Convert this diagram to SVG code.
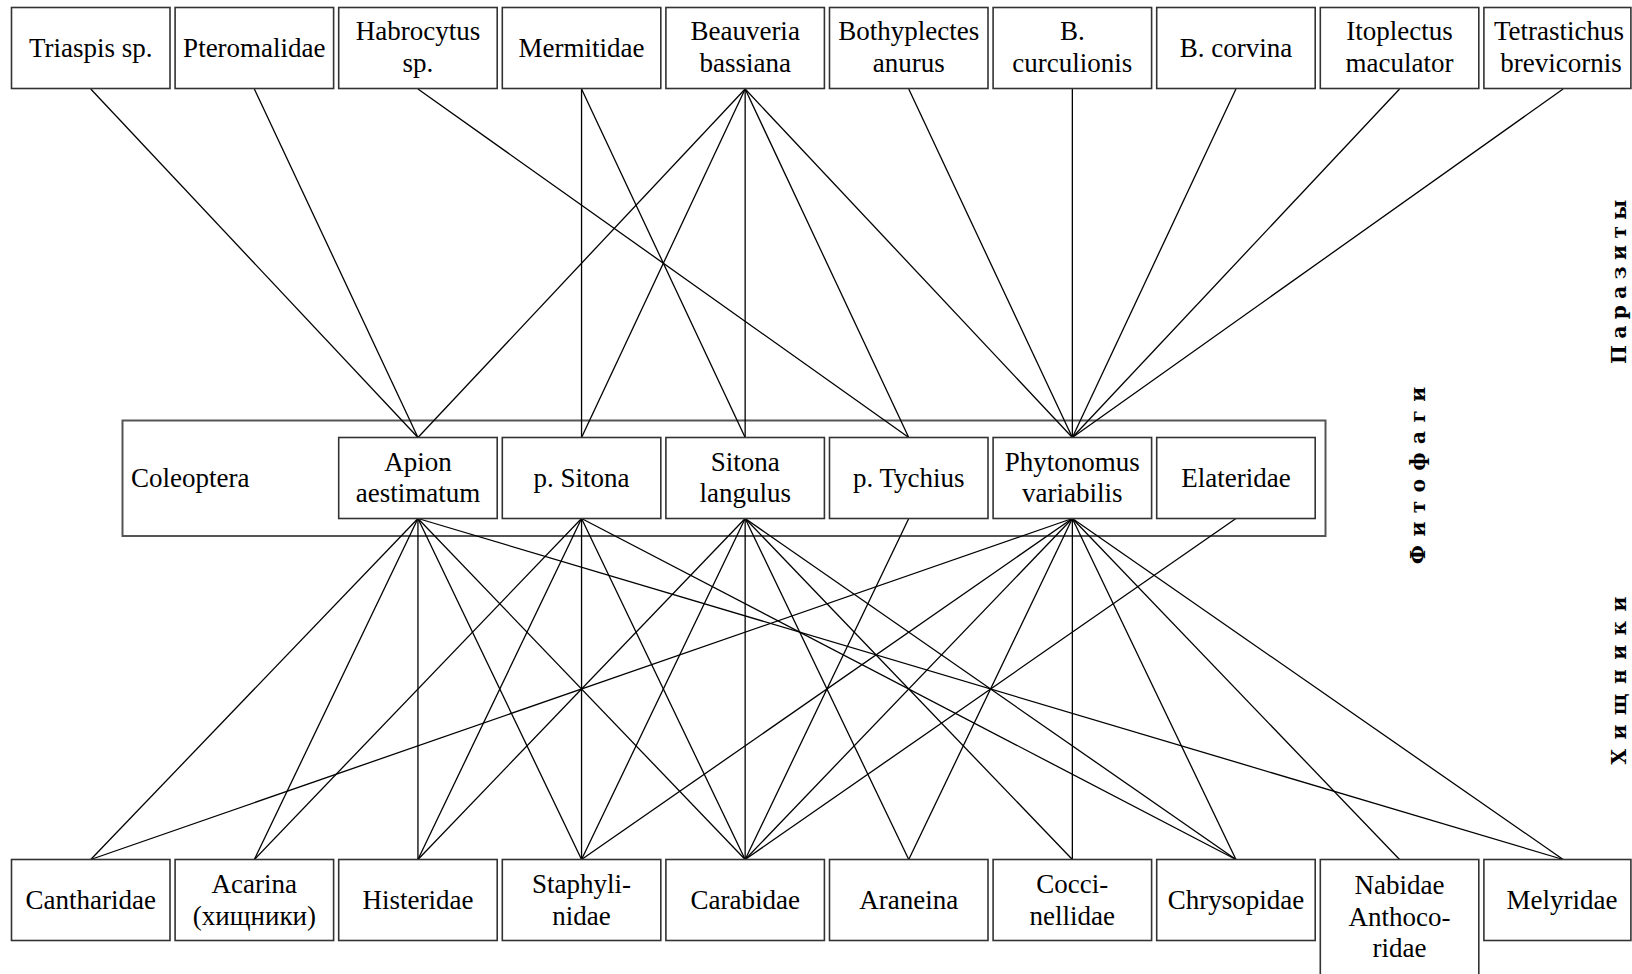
<svg xmlns="http://www.w3.org/2000/svg" width="1632" height="974" viewBox="0 0 1632 974">
<style>
.box{fill:#fff;stroke:#333;stroke-width:1.6}
.outer{fill:#fff;stroke:#555;stroke-width:2}
.lbl{font-family:"Liberation Serif","Times New Roman",serif;font-size:27px;fill:#000;text-anchor:middle}
.lbls{font-family:"Liberation Serif","Times New Roman",serif;font-size:27px;fill:#000;text-anchor:start}
.side{font-family:"DejaVu Serif",serif;font-weight:bold;font-size:20px;fill:#000;text-anchor:start}
.edges line{stroke:#000;stroke-width:1.3}
</style>
<rect width="1632" height="974" fill="#fff"/>
<g id="coleoptera">
<rect class="outer" x="122.5" y="420.5" width="1203" height="115.5"/>
<text class="lbls" x="131" y="486.5">Coleoptera</text>
</g>
<g id="connectors" class="edges">
<line x1="90.75" y1="89" x2="417.95" y2="437.5"/>
<line x1="254.35" y1="89" x2="417.95" y2="437.5"/>
<line x1="417.95" y1="89" x2="908.75" y2="437.5"/>
<line x1="581.55" y1="89" x2="581.55" y2="437.5"/>
<line x1="581.55" y1="89" x2="745.15" y2="437.5"/>
<line x1="745.15" y1="89" x2="417.95" y2="437.5"/>
<line x1="745.15" y1="89" x2="581.55" y2="437.5"/>
<line x1="745.15" y1="89" x2="745.15" y2="437.5"/>
<line x1="745.15" y1="89" x2="908.75" y2="437.5"/>
<line x1="745.15" y1="89" x2="1072.35" y2="437.5"/>
<line x1="908.75" y1="89" x2="1072.35" y2="437.5"/>
<line x1="1072.35" y1="89" x2="1072.35" y2="437.5"/>
<line x1="1235.95" y1="89" x2="1072.35" y2="437.5"/>
<line x1="1399.55" y1="89" x2="1072.35" y2="437.5"/>
<line x1="1563.15" y1="89" x2="1072.35" y2="437.5"/>
<line x1="417.95" y1="518.5" x2="90.75" y2="859.5"/>
<line x1="417.95" y1="518.5" x2="254.35" y2="859.5"/>
<line x1="417.95" y1="518.5" x2="417.95" y2="859.5"/>
<line x1="417.95" y1="518.5" x2="581.55" y2="859.5"/>
<line x1="417.95" y1="518.5" x2="745.15" y2="859.5"/>
<line x1="417.95" y1="518.5" x2="1563.15" y2="859.5"/>
<line x1="581.55" y1="518.5" x2="254.35" y2="859.5"/>
<line x1="581.55" y1="518.5" x2="417.95" y2="859.5"/>
<line x1="581.55" y1="518.5" x2="581.55" y2="859.5"/>
<line x1="581.55" y1="518.5" x2="745.15" y2="859.5"/>
<line x1="581.55" y1="518.5" x2="1235.95" y2="859.5"/>
<line x1="745.15" y1="518.5" x2="417.95" y2="859.5"/>
<line x1="745.15" y1="518.5" x2="581.55" y2="859.5"/>
<line x1="745.15" y1="518.5" x2="745.15" y2="859.5"/>
<line x1="745.15" y1="518.5" x2="908.75" y2="859.5"/>
<line x1="745.15" y1="518.5" x2="1072.35" y2="859.5"/>
<line x1="745.15" y1="518.5" x2="1235.95" y2="859.5"/>
<line x1="908.75" y1="518.5" x2="745.15" y2="859.5"/>
<line x1="1072.35" y1="518.5" x2="90.75" y2="859.5"/>
<line x1="1072.35" y1="518.5" x2="581.55" y2="859.5"/>
<line x1="1072.35" y1="518.5" x2="745.15" y2="859.5"/>
<line x1="1072.35" y1="518.5" x2="908.75" y2="859.5"/>
<line x1="1072.35" y1="518.5" x2="1072.35" y2="859.5"/>
<line x1="1072.35" y1="518.5" x2="1235.95" y2="859.5"/>
<line x1="1072.35" y1="518.5" x2="1399.55" y2="859.5"/>
<line x1="1072.35" y1="518.5" x2="1563.15" y2="859.5"/>
<line x1="1235.95" y1="518.5" x2="745.15" y2="859.5"/>
</g>
<g id="triaspis"><rect class="box" x="11.5" y="7.5" width="158.5" height="81"/><text class="lbl" x="90.75" y="56.5">Triaspis sp.</text></g>
<g id="pteromalidae"><rect class="box" x="175.1" y="7.5" width="158.5" height="81"/><text class="lbl" x="254.35" y="56.5">Pteromalidae</text></g>
<g id="habrocytus"><rect class="box" x="338.7" y="7.5" width="158.5" height="81"/><text class="lbl" x="417.95" y="40">Habrocytus</text><text class="lbl" x="417.95" y="71.7">sp.</text></g>
<g id="mermitidae"><rect class="box" x="502.3" y="7.5" width="158.5" height="81"/><text class="lbl" x="581.55" y="56.5">Mermitidae</text></g>
<g id="beauveria"><rect class="box" x="665.9" y="7.5" width="158.5" height="81"/><text class="lbl" x="745.15" y="40">Beauveria</text><text class="lbl" x="745.15" y="71.7">bassiana</text></g>
<g id="bothyplectes"><rect class="box" x="829.5" y="7.5" width="158.5" height="81"/><text class="lbl" x="908.75" y="40">Bothyplectes</text><text class="lbl" x="908.75" y="71.7">anurus</text></g>
<g id="b-curculionis"><rect class="box" x="993.1" y="7.5" width="158.5" height="81"/><text class="lbl" x="1072.35" y="40">B.</text><text class="lbl" x="1072.35" y="71.7">curculionis</text></g>
<g id="b-corvina"><rect class="box" x="1156.7" y="7.5" width="158.5" height="81"/><text class="lbl" x="1235.95" y="56.5">B. corvina</text></g>
<g id="itoplectus"><rect class="box" x="1320.3" y="7.5" width="158.5" height="81"/><text class="lbl" x="1399.55" y="40">Itoplectus</text><text class="lbl" x="1399.55" y="71.7">maculator</text></g>
<g id="tetrastichus"><rect class="box" x="1483.9" y="7.5" width="147" height="81"/><text class="lbl" x="1559" y="40">Tetrastichus</text><text class="lbl" x="1561" y="71.7">brevicornis</text></g>
<g id="apion"><rect class="box" x="338.7" y="437.5" width="158.5" height="81"/><text class="lbl" x="417.95" y="470.5">Apion</text><text class="lbl" x="417.95" y="502">aestimatum</text></g>
<g id="p-sitona"><rect class="box" x="502.3" y="437.5" width="158.5" height="81"/><text class="lbl" x="581.55" y="486.5">p. Sitona</text></g>
<g id="sitona-langulus"><rect class="box" x="665.9" y="437.5" width="158.5" height="81"/><text class="lbl" x="745.15" y="470.5">Sitona</text><text class="lbl" x="745.15" y="502">langulus</text></g>
<g id="p-tychius"><rect class="box" x="829.5" y="437.5" width="158.5" height="81"/><text class="lbl" x="908.75" y="486.5">p. Tychius</text></g>
<g id="phytonomus"><rect class="box" x="993.1" y="437.5" width="158.5" height="81"/><text class="lbl" x="1072.35" y="470.5">Phytonomus</text><text class="lbl" x="1072.35" y="502">variabilis</text></g>
<g id="elateridae"><rect class="box" x="1156.7" y="437.5" width="158.5" height="81"/><text class="lbl" x="1235.95" y="486.5">Elateridae</text></g>
<g id="cantharidae"><rect class="box" x="11.5" y="859.5" width="158.5" height="81"/><text class="lbl" x="90.75" y="908.5">Cantharidae</text></g>
<g id="acarina"><rect class="box" x="175.1" y="859.5" width="158.5" height="81"/><text class="lbl" x="254.35" y="892.5">Acarina</text><text class="lbl" x="254.35" y="924.5">(хищники)</text></g>
<g id="histeridae"><rect class="box" x="338.7" y="859.5" width="158.5" height="81"/><text class="lbl" x="417.95" y="908.5">Histeridae</text></g>
<g id="staphylinidae"><rect class="box" x="502.3" y="859.5" width="158.5" height="81"/><text class="lbl" x="581.55" y="892.5">Staphyli-</text><text class="lbl" x="581.55" y="924.5">nidae</text></g>
<g id="carabidae"><rect class="box" x="665.9" y="859.5" width="158.5" height="81"/><text class="lbl" x="745.15" y="908.5">Carabidae</text></g>
<g id="araneina"><rect class="box" x="829.5" y="859.5" width="158.5" height="81"/><text class="lbl" x="908.75" y="908.5">Araneina</text></g>
<g id="coccinellidae"><rect class="box" x="993.1" y="859.5" width="158.5" height="81"/><text class="lbl" x="1072.35" y="892.5">Cocci-</text><text class="lbl" x="1072.35" y="924.5">nellidae</text></g>
<g id="chrysopidae"><rect class="box" x="1156.7" y="859.5" width="158.5" height="81"/><text class="lbl" x="1235.95" y="908.5">Chrysopidae</text></g>
<g id="nabidae"><rect class="box" x="1320.3" y="859.5" width="158.5" height="130"/><text class="lbl" x="1399.55" y="894">Nabidae</text><text class="lbl" x="1399.55" y="925.5">Anthoco-</text><text class="lbl" x="1399.55" y="957">ridae</text></g>
<g id="melyridae"><rect class="box" x="1483.9" y="859.5" width="147" height="81"/><text class="lbl" x="1562" y="908.5">Melyridae</text></g>
<g id="side-labels">
<text class="side" x="1626" y="364" letter-spacing="6.5" transform="rotate(-90 1626 364)">Паразиты</text>
<text class="side" x="1425" y="564" letter-spacing="8.5" transform="rotate(-90 1425 564)">Фитофаги</text>
<text class="side" x="1626" y="764.5" letter-spacing="9.5" transform="rotate(-90 1626 764.5)">Хищники</text>
</g>
</svg>
